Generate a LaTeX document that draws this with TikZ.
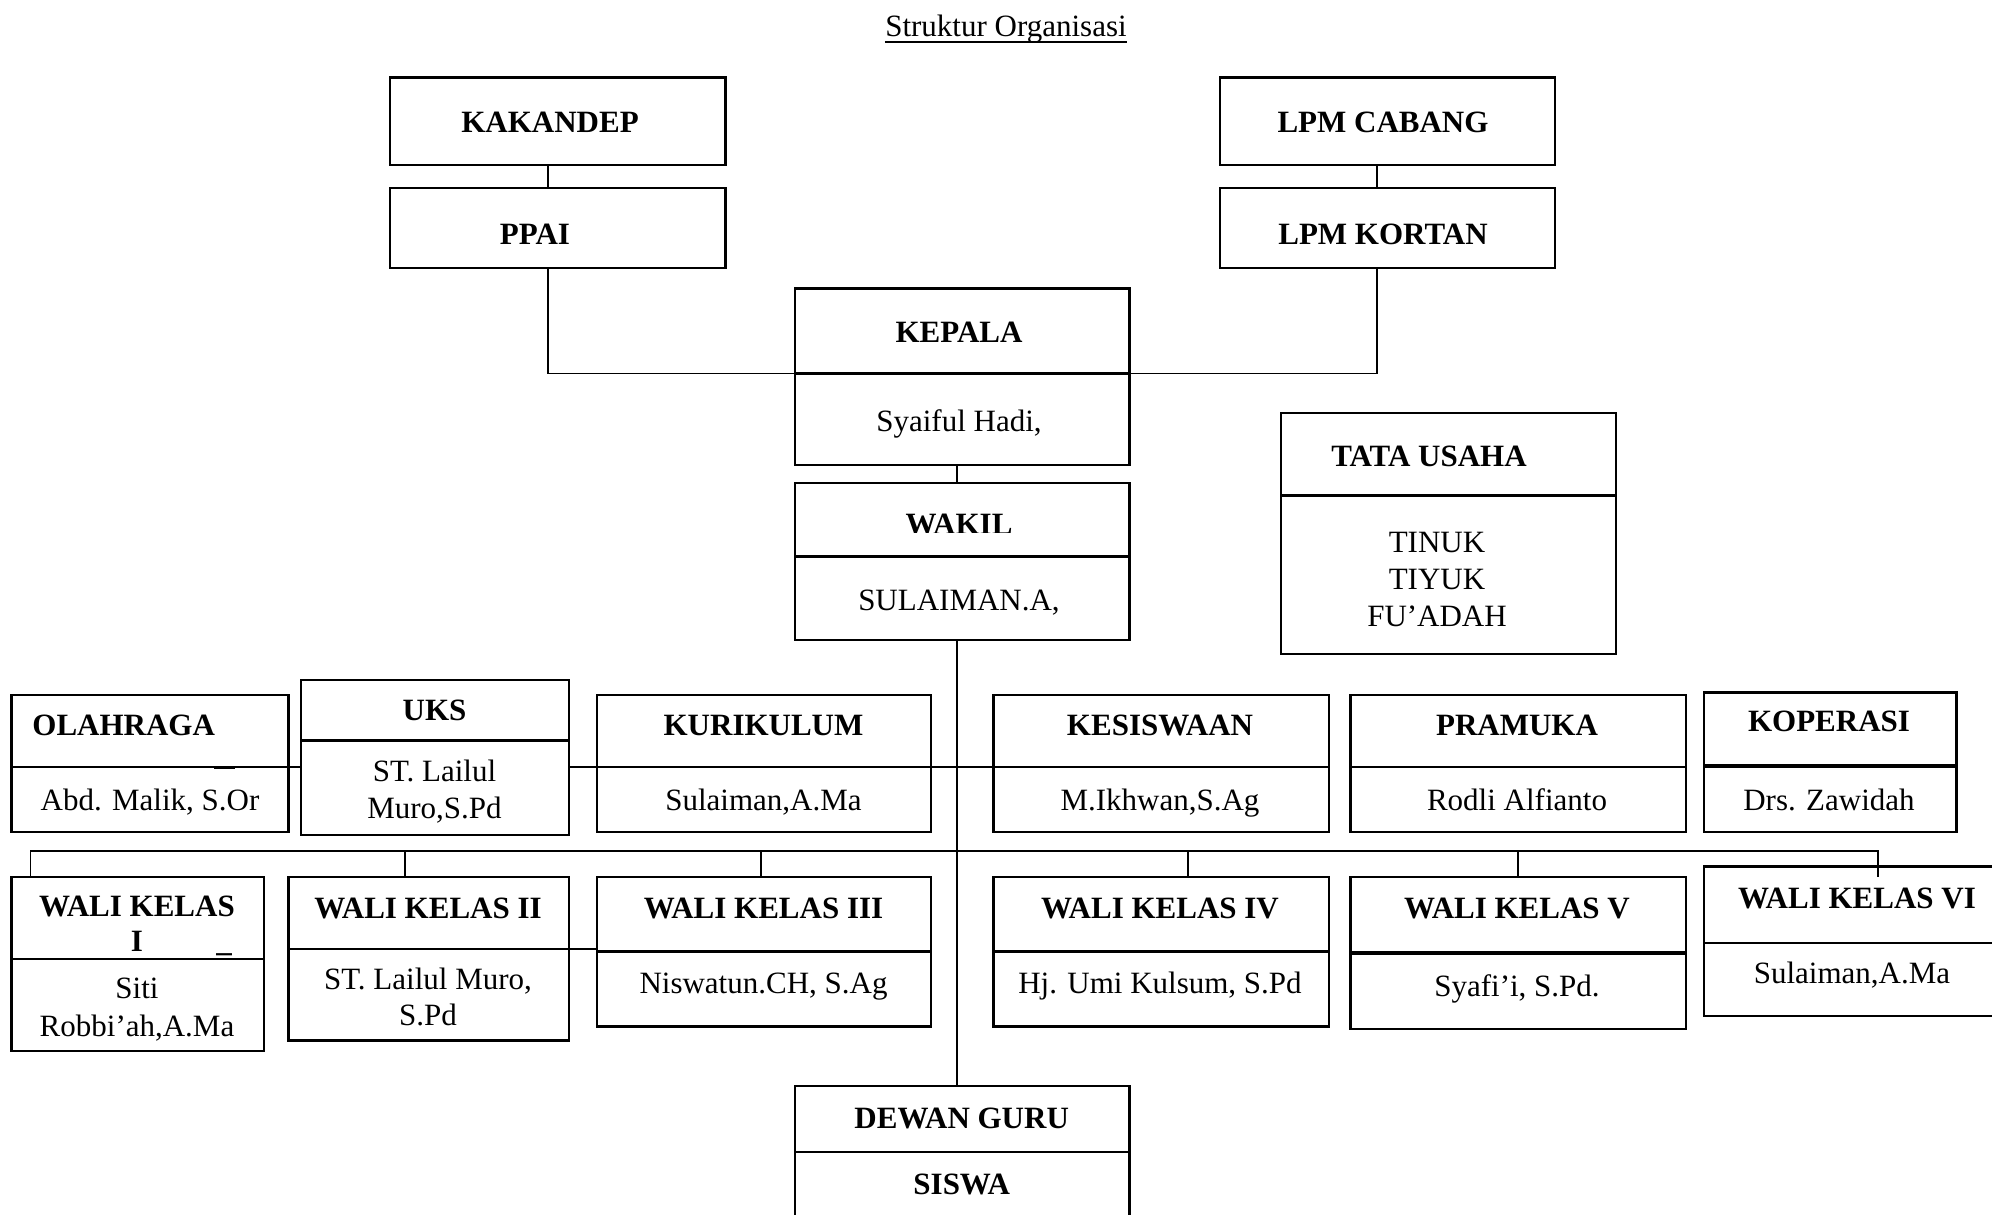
\documentclass[tikz,border=0pt]{standalone}
\usepackage{fontspec}
\setmainfont{Liberation Serif}
\newcommand\orgbox[6][]{\node[box,#1,minimum width={(#4-#2)*0.5pt},minimum height={(#5-#3)*0.5pt}] (#6) at ({(#2+#4)/2},{(#3+#5)/2}) {};}
\begin{document}
\begin{tikzpicture}[x=0.5pt,y=-0.5pt,
  box/.style={draw, line width=1.1pt, rectangle, inner sep=0pt, outer sep=0pt},
  lnk/.style={line width=0.9pt},
  thickdiv/.style={line width=1.8pt},
  t/.style={inner sep=0pt, anchor=base, font=\fontsize{15.5}{18.5}\selectfont},
  tb/.style={t, font=\fontsize{15.5}{18.5}\selectfont\bfseries},
]
\useasboundingbox (0,0) rectangle (1992,1215);
\clip (0,0) rectangle (1992,1215);

% title
\node[t] (title) at (1006,36) {Struktur Organisasi};
\draw[line width=0.6pt] ([yshift=-3pt]title.base west) -- ([yshift=-3pt]title.base east);

% upper boxes
\orgbox{390}{77.5}{725.4}{165.2}{kakandep}
\orgbox{390}{188}{725.4}{268}{ppai}
\orgbox{1219.6}{77.5}{1555}{165.2}{cabang}
\orgbox{1219.6}{188}{1555}{268}{kortan}
\orgbox{795}{288.4}{1129.4}{373.5}{kepala}
\orgbox{795}{373.5}{1129.4}{465}{kepalaN}
\orgbox{795}{482.8}{1129.4}{556.5}{wakil}
\orgbox{795}{556.5}{1129.4}{640.3}{wakilN}
\orgbox{1280.6}{412.9}{1616}{495.5}{tu}
\orgbox{1280.6}{495.5}{1616}{654.3}{tuN}

% row 1
\orgbox{11.4}{694.9}{288.4}{767.3}{olahraga}
\orgbox{11.4}{767.3}{288.4}{832.1}{olahragaN}
\orgbox{301}{679.7}{569}{740.6}{uks}
\orgbox{301}{740.6}{569}{834.6}{uksN}
\orgbox{597}{694.9}{931.2}{767.3}{kurikulum}
\orgbox{597}{767.3}{931.2}{832.1}{kurikulumN}
\orgbox{993.5}{694.9}{1328.8}{767.3}{kesiswaan}
\orgbox{993.5}{767.3}{1328.8}{832.1}{kesiswaanN}
\orgbox{1350.4}{694.9}{1685.8}{767.3}{pramuka}
\orgbox{1350.4}{767.3}{1685.8}{832.1}{pramukaN}
\orgbox{1703.6}{692.4}{1956.4}{766}{koperasi}
\orgbox{1703.6}{766}{1956.4}{832.1}{koperasiN}

% row 2
\orgbox{11.4}{876.6}{264.2}{959.2}{w1}
\orgbox{11.4}{959.2}{264.2}{1050.6}{w1N}
\orgbox{288.4}{876.6}{569}{949}{w2}
\orgbox{288.4}{949}{569}{1040.4}{w2N}
\orgbox{597}{876.6}{931.2}{951.5}{w3}
\orgbox{597}{951.5}{931.2}{1026.4}{w3N}
\orgbox{993.5}{876.6}{1328.8}{951.5}{w4}
\orgbox{993.5}{951.5}{1328.8}{1026.4}{w4N}
\orgbox{1350.4}{876.6}{1685.8}{952.8}{w5}
\orgbox{1350.4}{952.8}{1685.8}{1029}{w5N}
\orgbox{1703.6}{866.4}{2010}{942.6}{w6}
\orgbox{1703.6}{942.6}{2010}{1016.3}{w6N}

% bottom
\orgbox{795}{1086.2}{1129.4}{1152.3}{dewan}
\orgbox{795}{1152.3}{1129.4}{1260}{siswa}

% thicker dividers and marks
\draw[thickdiv] (uks.south west) -- (uks.south east);
\draw[thickdiv] (koperasi.south west) -- (koperasi.south east);
\draw[thickdiv] (w5.south west) -- (w5.south east);
\draw[line width=1.5pt] (214,767.3) -- (235,767.3);

% connector coordinates
\coordinate (xa) at (548,0);
\coordinate (xb) at (1377,0);
\coordinate (xm) at (956.6,0);
\coordinate (b1) at (30.5,851);
\coordinate (b2) at (405,851);
\coordinate (b3) at (761,851);
\coordinate (b4) at (1188,851);
\coordinate (b5) at (1518,851);
\coordinate (b6) at (1877.6,851);
\coordinate (b6e) at (1877.6,877);

% connectors
\draw[lnk] (kakandep.south -| xa) -- (ppai.north -| xa);
\draw[lnk] (cabang.south -| xb) -- (kortan.north -| xb);
\draw[lnk] (ppai.south -| xa) |- (kepala.south west);
\draw[lnk] (kortan.south -| xb) |- (kepala.south east);
\draw[lnk] (kepalaN.south -| xm) -- (wakil.north -| xm);
\draw[lnk] (wakilN.south -| xm) -- (dewan.north -| xm);
\draw[lnk] (olahraga.south east) -- (olahraga.south east -| uksN.west);
\draw[lnk] (kurikulum.south west -| uksN.east) -- (kurikulum.south west);
\draw[lnk] (kurikulum.south east) -- (kesiswaan.south west);
\draw[lnk] (b1 |- w1.north) -- (b1) -- (b6) -- (b6e);
\draw[lnk] (b2) -- (b2 |- w2.north);
\draw[lnk] (b3) -- (b3 |- w3.north);
\draw[lnk] (b4) -- (b4 |- w4.north);
\draw[lnk] (b5) -- (b5 |- w5.north);
\draw[lnk] (w2.south east) -- (w2.south east -| w3.west);

% texts
\node[tb] (tkak) at (550,132) {KAKANDEP};
\node[tb] (tppai) at (535,244) {PPAI};
\node[tb] (tcab) at (1383,132) {LPM CABANG};
\node[tb] (tkor) at (1383,244) {LPM KORTAN};
\node[tb] (tkep) at (959,342) {KEPALA};
\node[t] (nkep) at (959,431) {Syaiful Hadi,};
\begin{scope}
\clip (795,482) rectangle (1129,532);
\node[tb] (twak) at (959,534) {WAKIL};
\end{scope}
\node[t] (nwak) at (959,610) {SULAIMAN.A,};
\node[tb] (ttu) at (1429,466) {TATA USAHA};
\node[t] (ntu1) at (1437,552) {TINUK};
\node[t] (ntu2) at (1437,589) {TIYUK};
\node[t] (ntu3) at (1437,626) {FU’ADAH};

\node[tb, anchor=base west] (tola) at (32,735) {OLAHRAGA};
\node[t] (nola) at (150,810) {Abd. Malik, S.Or};
\node[tb] (tuks) at (434.5,720) {UKS};
\node[t] (nuks1) at (434.5,781) {ST. Lailul};
\node[t] (nuks2) at (434.5,818) {Muro,S.Pd};
\node[tb] (tkur) at (763.5,735) {KURIKULUM};
\node[t] (nkur) at (763.5,810) {Sulaiman,A.Ma};
\node[tb] (tkes) at (1160,735) {KESISWAAN};
\node[t] (nkes) at (1160,810) {M.Ikhwan,S.Ag};
\node[tb] (tpra) at (1517,735) {PRAMUKA};
\node[t] (npra) at (1517,810) {Rodli Alfianto};
\node[tb] (tkop) at (1829,731) {KOPERASI};
\node[t] (nkop) at (1829,810) {Drs. Zawidah};

\node[tb] (tw1a) at (137,916) {WALI KELAS};
\node[tb] (tw1b) at (137,951) {I};
\node[tb] (tw1c) at (224,951) {\_};
\node[t] (nw1a) at (137,998) {Siti};
\node[t] (nw1b) at (137,1036) {Robbi’ah,A.Ma};
\node[tb] (tw2) at (428,918) {WALI KELAS II};
\node[t] (nw2a) at (428,989) {ST. Lailul Muro,};
\node[t] (nw2b) at (428,1025) {S.Pd};
\node[tb] (tw3) at (763.5,918) {WALI KELAS III};
\node[t] (nw3) at (763.5,993) {Niswatun.CH, S.Ag};
\node[tb] (tw4) at (1160,918) {WALI KELAS IV};
\node[t] (nw4) at (1160,993) {Hj. Umi Kulsum, S.Pd};
\node[tb] (tw5) at (1517,918) {WALI KELAS V};
\node[t] (nw5) at (1517,996) {Syafi’i, S.Pd.};
\node[tb] (tw6) at (1857,908) {WALI KELAS VI};
\node[t] (nw6) at (1852,983) {Sulaiman,A.Ma};

\node[tb] (tdew) at (961.7,1128) {DEWAN GURU};
\node[tb] (tsis) at (961.7,1194) {SISWA};
\end{tikzpicture}
\end{document}
